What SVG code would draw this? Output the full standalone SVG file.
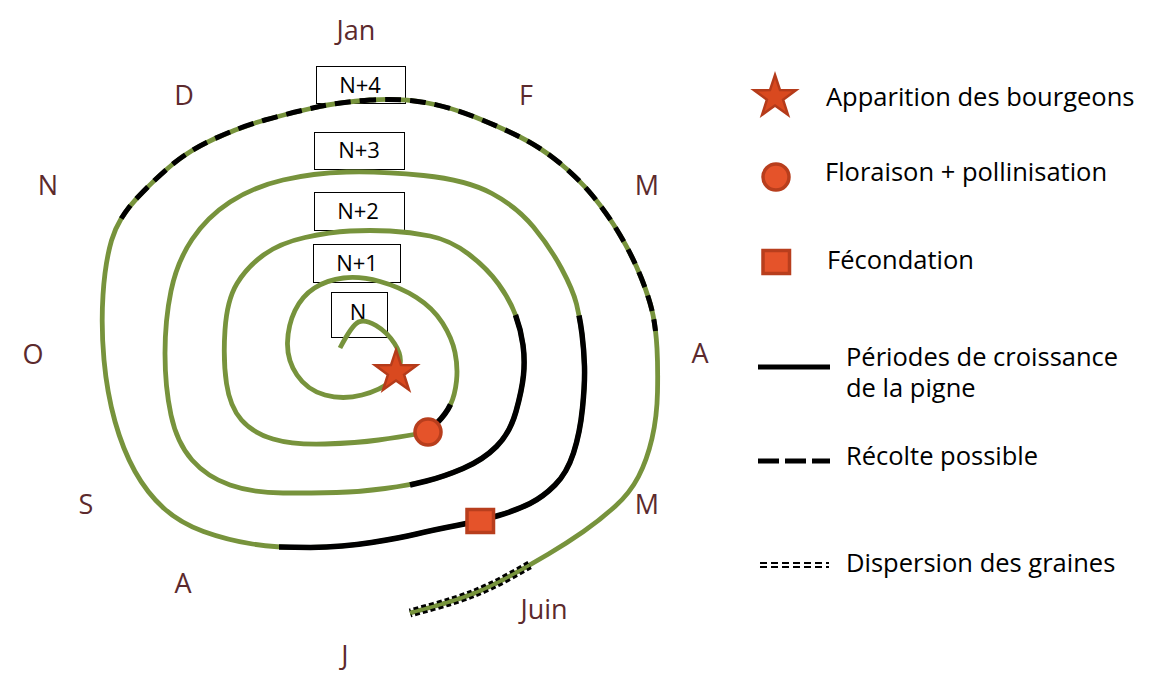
<svg xmlns="http://www.w3.org/2000/svg" xmlns:xlink="http://www.w3.org/1999/xlink" width="1154" height="695" viewBox="0 0 1154 695">
<style>
.month{font-family:"Open Sans","Liberation Sans",sans-serif;font-size:27px;fill:#5c2a2d;text-anchor:middle}
.lbl{font-family:"Open Sans","Liberation Sans",sans-serif;font-size:25.5px;fill:#000}
.box rect{fill:#fff;stroke:#000;stroke-width:1}
.box text{font-family:"Open Sans","Liberation Sans",sans-serif;font-size:22px;fill:#000;text-anchor:middle}
.green{fill:none;stroke:#77933c;stroke-width:4.8;stroke-linecap:butt;stroke-linejoin:round}
.blk{fill:none;stroke:#000;stroke-width:5.5}
.dash{fill:none;stroke:#000;stroke-width:5;stroke-dasharray:16 9}
.dbl{fill:none;stroke:#000;stroke-width:9;stroke-dasharray:5 3}
.dblin{fill:none;stroke:#77933c;stroke-width:3.5}
.mk{fill:#e5532a;stroke:#b83e1d;stroke-width:3.5}
.star{fill:#d9491f;stroke:#b53b1a;stroke-width:2.5;stroke-linejoin:miter}
</style>
<defs>
<polygon id="starShape" points="0,-22 5,-6.88 20.92,-6.8 8.08,2.63 12.93,17.8 0,8.5 -12.93,17.8 -8.08,2.63 -20.92,-6.8 -5,-6.88"/>
</defs>
<rect width="1154" height="695" fill="#fff"/>

<g id="months">
<text class="month" x="356" y="40">Jan</text>
<text class="month" x="526" y="105">F</text>
<text class="month" x="647" y="195">M</text>
<text class="month" x="700" y="363">A</text>
<text class="month" x="647" y="514">M</text>
<text class="month" x="544" y="619">Juin</text>
<text class="month" x="345" y="665">J</text>
<text class="month" x="183" y="593">A</text>
<text class="month" x="86" y="514">S</text>
<text class="month" x="33" y="364">O</text>
<text class="month" x="48" y="195">N</text>
<text class="month" x="184" y="105">D</text>
</g>

<g id="box-N4" class="box"><rect x="316.5" y="66.5" width="89" height="37"/><text x="360" y="93">N+4</text></g>
<g id="box-N3" class="box"><rect x="314.5" y="132.5" width="90" height="37"/><text x="359" y="158">N+3</text></g>
<g id="box-N2" class="box"><rect x="314.5" y="192.5" width="90" height="38"/><text x="358" y="219">N+2</text></g>
<g id="box-N1" class="box"><rect x="313.5" y="244.5" width="87" height="38"/><text x="357" y="271">N+1</text></g>
<g id="box-N" class="box"><rect x="331.5" y="292.5" width="56" height="45"/><text x="358" y="320">N</text></g>

<g id="connectors">
<path id="spiral" class="green" d="M 340 348 Q 352 325 358.5 322 Q 365 319 376 325.5 Q 387 332 394.5 343.5 Q 402 355 400 364.5 Q 398 374 389.5 382 Q 381 390 362 395 Q 343 400 325 395 Q 307 390 297 375 Q 287 360 287.5 342.5 Q 288 325 295 310.5 Q 302 296 314.5 288 Q 327 280 343.5 278 Q 360 276 380 281.5 Q 400 287 416.5 297.5 Q 433 308 442.5 323 Q 452 338 455 352.5 Q 458 367 456.5 381 Q 455 395 450.5 404.5 Q 446 414 437 423 Q 428 432 414 434.5 Q 400 437 378.5 440 Q 357 443 325 444 Q 293 445 273 439 Q 253 433 241.5 420 Q 230 407 226.5 383.5 Q 223 360 225 330 Q 227 300 237 283.5 Q 247 267 263.5 255 Q 280 243 305 237.5 Q 330 232 350 231 Q 370 230 390 231 Q 410 232 430 236 Q 450 240 468.5 254 Q 487 268 498.5 284 Q 510 300 515.5 315 Q 521 330 523 345 Q 525 360 523.5 375 Q 522 390 516 411.5 Q 510 433 496.5 446.5 Q 483 460 463 468.5 Q 443 477 426.5 481 Q 410 485 385 488.5 Q 360 492 336.5 492.5 Q 313 493 283 493 Q 253 493 230 485 Q 207 477 192 460 Q 177 443 171 415 Q 165 387 165 353.5 Q 165 320 171 291 Q 177 262 192 239.5 Q 207 217 230 202 Q 253 187 283 180 Q 313 173 346.5 172 Q 380 171 423.5 175.5 Q 467 180 492 193.5 Q 517 207 533.5 227 Q 550 247 561.5 268.5 Q 573 290 576.5 304 Q 580 318 582 334 Q 584 350 584.5 366.5 Q 585 383 582.5 408 Q 580 433 573.5 453 Q 567 473 555 485 Q 543 497 530 503.5 Q 517 510 498.5 515.5 Q 480 521 456.5 525.5 Q 433 530 416.5 534 Q 400 538 371.5 542.5 Q 343 547 310.5 547.5 Q 278 548 252.5 544 Q 227 540 203.5 531.5 Q 180 523 163.5 508 Q 147 493 135 471.5 Q 123 450 115 421.5 Q 107 393 104 360 Q 101 327 103 295 Q 105 263 111.5 240.5 Q 118 218 137.5 197.5 Q 157 177 173.5 163.5 Q 190 150 215 138.5 Q 240 127 265 120 Q 290 113 315 107.5 Q 340 102 370 100 Q 400 98 425 102.5 Q 450 107 475 117 Q 500 127 520 137 Q 540 147 558.5 162 Q 577 177 592 195 Q 607 213 620 235 Q 633 257 641.5 278.5 Q 650 300 653 315 Q 656 330 657 348.5 Q 658 367 657.5 392 Q 657 417 652 438.5 Q 647 460 638.5 476.5 Q 630 493 615 506.5 Q 600 520 583.5 531.5 Q 567 543 548.5 554 Q 530 565 510 576 Q 490 587 473.5 593.5 Q 457 600 433.5 606.5 L 410 613"/>
<path class="blk" d="M 450.5 404.5 Q 446 414 437 423 L 428 432"/>
<path class="blk" d="M 515.5 315 Q 521 330 523 345 Q 525 360 523.5 375 Q 522 390 516 411.5 Q 510 433 496.5 446.5 Q 483 460 463 468.5 Q 443 477 426.5 481 L 410 485"/>
<path class="blk" d="M 579 315.5 Q 580.8 324.4 582 334 Q 584 350 584.5 366.5 Q 585 383 582.5 408 Q 580 433 573.5 453 Q 567 473 555 485 Q 543 497 530 503.5 Q 517 510 498.5 515.5 Q 480 521 456.5 525.5 Q 433 530 416.5 534 Q 400 538 371.5 542.5 Q 343 547 310.5 547.5 L 279 547"/>
<path class="dash" d="M 121.25 218.5 Q 127.75 207.75 137.5 197.5 Q 157 177 173.5 163.5 Q 190 150 215 138.5 Q 240 127 265 120 Q 290 113 315 107.5 Q 340 102 370 100 Q 400 98 425 102.5 Q 450 107 475 117 Q 500 127 520 137 Q 540 147 558.5 162 Q 577 177 592 195 Q 607 213 620 235 Q 633 257 641.5 278.5 Q 650 300 653 315 Q 654.5 322.5 655.5 331"/>
<path class="dbl" d="M 529.6 565 Q 520 570.5 510 576 Q 490 587 473.5 593.5 Q 457 600 433.5 606.5 L 410 613"/>
<path class="dblin" d="M 529.6 565 Q 520 570.5 510 576 Q 490 587 473.5 593.5 Q 457 600 433.5 606.5 L 410 613"/>
</g>

<g id="marker-star"><use xlink:href="#starShape" class="star" transform="translate(396 372)"/></g>
<g id="marker-circle"><circle class="mk" cx="428" cy="432" r="13"/></g>
<g id="marker-square"><rect class="mk" x="467" y="509.5" width="26.5" height="23"/></g>

<g id="legend-star"><use xlink:href="#starShape" class="star" transform="translate(775 97)"/><text class="lbl" x="826" y="106">Apparition des bourgeons</text></g>
<g id="legend-circle"><circle class="mk" cx="776" cy="177" r="13"/><text class="lbl" x="825" y="181">Floraison + pollinisation</text></g>
<g id="legend-square"><rect class="mk" x="763" y="250.5" width="26.5" height="23"/><text class="lbl" x="827" y="269">Fécondation</text></g>
<g id="legend-growth"><line x1="758" y1="367" x2="830" y2="367" stroke="#000" stroke-width="5"/><text class="lbl" x="846" y="366">Périodes de croissance</text><text class="lbl" x="846" y="397">de la pigne</text></g>
<g id="legend-harvest"><line x1="758" y1="461" x2="830" y2="461" stroke="#000" stroke-width="5" stroke-dasharray="21 6"/><text class="lbl" x="846" y="465">Récolte possible</text></g>
<g id="legend-dispersion"><line x1="760" y1="563" x2="829" y2="563" stroke="#000" stroke-width="2" stroke-dasharray="7 4"/><line x1="760" y1="567" x2="829" y2="567" stroke="#000" stroke-width="2" stroke-dasharray="7 4"/><text class="lbl" x="846" y="572">Dispersion des graines</text></g>
</svg>
